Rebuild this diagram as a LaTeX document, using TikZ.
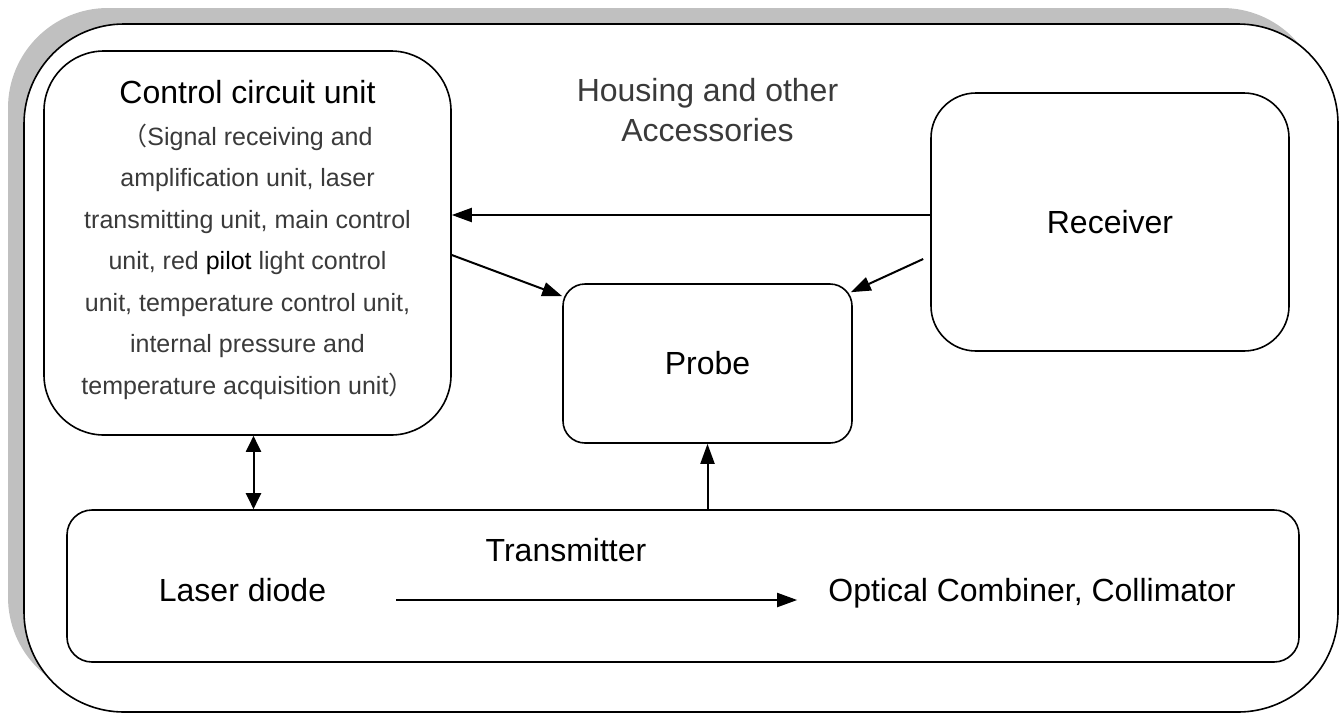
\documentclass[tikz,border=0pt]{standalone}
\usepackage{fontspec}
\setmainfont{Liberation Sans}
\newfontfamily\cjk{Noto Sans CJK SC}
\usepackage{tikz}
\usetikzlibrary{positioning,arrows.meta}
\definecolor{shadowgray}{HTML}{C0C0C0}
\definecolor{textgray}{HTML}{3A3A3A}
\tikzset{
  unitbox/.style={draw, line width=1.6pt, align=center, inner sep=0pt, font=\fontsize{32}{40}\selectfont},
  plaintext/.style={inner sep=0pt, font=\fontsize{32}{40}\selectfont},
  fwd/.style={-{Triangle[length=20pt,width=14pt]}, line width=2pt},
  twoway/.style={{Triangle[length=16pt,width=15pt]}-{Triangle[length=16pt,width=15pt]}, line width=2pt},
}

\begin{document}
\begin{tikzpicture}[x=1pt, y=-1pt]
  \useasboundingbox (0,0) rectangle (1340,713);
  % housing with its shadow
  \fill[shadowgray, rounded corners=100pt] (8,8) rectangle (1322,697);
  \draw[line width=1.6pt, fill=white, rounded corners=100pt] (24,24) rectangle (1338,712);
  \node[plaintext, align=center, text=textgray] (housing) at (707.5,110) {Housing and other\\Accessories};

  \node[unitbox, rounded corners=60pt, minimum width=407pt, minimum height=384pt, text=textgray,
        font=\fontsize{25}{41.5}\selectfont] (ctrl) at (247.5,243)
    {{\fontsize{32}{41.5}\selectfont\color{black}Control circuit unit}\\
     {\cjk （}Signal receiving and\\
     amplification unit, laser\\
     transmitting unit, main control\\
     unit, red \textcolor{black}{pilot} light control\\
     unit, temperature control unit,\\
     internal pressure and\\
     temperature acquisition unit{\cjk ）}\rule[-11pt]{0pt}{11pt}};
  \node[unitbox, rounded corners=22pt, minimum width=289pt, minimum height=159pt] (probe) at (707.5,363.5) {Probe};
  \node[unitbox, rounded corners=45pt, minimum width=358pt, minimum height=258pt] (receiver) at (1110,222) {Receiver};
  \node[unitbox, rounded corners=25pt, minimum width=1232pt, minimum height=152pt] (tx) at (683,586) {};

  \node[plaintext, anchor=base] (txlabel) at (566,561) {Transmitter};
  \node[plaintext, anchor=base] (laser) at (242.5,601) {Laser diode};
  \node[plaintext, anchor=base] (optic) at (1032,601) {Optical Combiner, Collimator};

  \draw[fwd] ([yshift=7pt]receiver.west) -- ([yshift=7pt]receiver.west -| ctrl.east);
  \draw[fwd] ([yshift=-12pt]ctrl.east) -- ([yshift=-13pt]probe.north west);
  \draw[fwd] ([xshift=-7pt,yshift=-37pt]receiver.west) -- ([xshift=-2pt,yshift=-9pt]probe.north east);
  \draw[fwd] (probe.south |- tx.north) -- (probe.south);
  \draw[twoway] ([xshift=6pt]ctrl.south) -- ([xshift=6pt]ctrl.south |- tx.north);
  \draw[fwd] ([xshift=70pt,yshift=1pt]laser.base east) -- ([xshift=-31pt,yshift=1pt]optic.base west);
\end{tikzpicture}
\end{document}
